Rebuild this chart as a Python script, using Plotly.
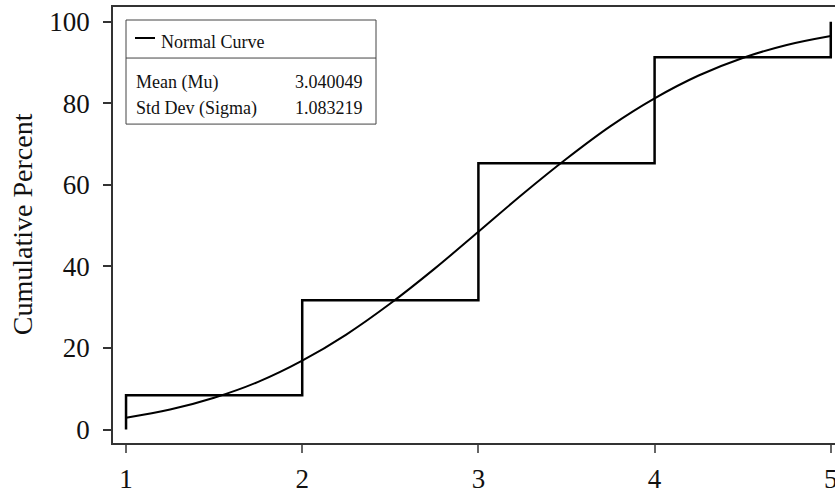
import plotly.graph_objects as go

# Empirical cumulative percent (step function)
step_x = [1, 1, 2, 3, 4, 5]
step_y = [0, 8.4, 31.7, 65.3, 91.3, 100]

# Normal curve values
curve_x = [1, 1.25, 1.5, 1.75, 2, 2.25, 2.5, 2.75, 3, 3.25, 3.5, 3.75, 4, 4.25, 4.5, 4.75, 5]
curve_y = [2.9, 4.9, 7.8, 11.7, 16.9, 23.3, 30.9, 39.4, 48.5, 57.7, 66.4, 74.4, 81.2, 86.8, 91.1, 94.3, 96.5]

x_ticks = [1, 2, 3, 4, 5]
y_ticks = [0, 20, 40, 60, 80, 100]

y_title = "Cumulative Percent"
legend_label = "Normal Curve"
stat_names = ["Mean (Mu)", "Std Dev (Sigma)"]
stat_values = ["3.040049", "1.083219"]

FONT = "Liberation Serif, Times New Roman, serif"

# plot area in page pixels
PL, PT, PR, PB = 113, 7, 835, 442.7

fig = go.Figure()
fig.add_trace(go.Scatter(x=step_x, y=step_y, mode="lines", line=dict(color="black", width=2.5, shape="hv"),
                         showlegend=False, hoverinfo="skip"))
fig.add_trace(go.Scatter(x=curve_x, y=curve_y, mode="lines", line=dict(color="black", width=2, shape="spline"),
                         showlegend=False, hoverinfo="skip"))

def px(x):
    return (x - PL) / (PR - PL)
def py(y):
    return 1 - (y - PT) / (PB - PT)

fig.add_shape(type="rect", xref="paper", yref="paper", x0=px(126), x1=px(376), y0=py(124), y1=py(20),
              line=dict(color="#444", width=1), fillcolor="white", layer="above")
fig.add_shape(type="line", xref="paper", yref="paper", x0=px(126), x1=px(376), y0=py(58), y1=py(58),
              line=dict(color="#444", width=1), layer="above")
fig.add_shape(type="line", xref="paper", yref="paper", x0=px(135), x1=px(155), y0=py(38), y1=py(38),
              line=dict(color="black", width=2), layer="above")
fig.add_annotation(xref="paper", yref="paper", x=px(159), y=py(42), text=legend_label, showarrow=False,
                   xanchor="left", yanchor="middle", font=dict(family=FONT, size=18, color="#111"))
for i, (n, v) in enumerate(zip(stat_names, stat_values)):
    yy = py(82 + 26 * i)
    fig.add_annotation(xref="paper", yref="paper", x=px(134), y=yy, text=n, showarrow=False,
                       xanchor="left", yanchor="middle", font=dict(family=FONT, size=18, color="#111"))
    fig.add_annotation(xref="paper", yref="paper", x=px(365), y=yy, text=v, showarrow=False,
                       xanchor="right", yanchor="middle", font=dict(family=FONT, size=18, color="#111"))

# y-axis title
fig.add_annotation(xref="paper", yref="paper", x=px(22), y=py(224), text=y_title, showarrow=False,
                   textangle=-90, xanchor="center", yanchor="middle",
                   font=dict(family=FONT, size=28, color="#111"))

fig.update_layout(
    width=835, height=495,
    margin=dict(l=PL, r=835 - PR, t=PT, b=495 - PB),
    plot_bgcolor="white", paper_bgcolor="white",
    font=dict(family=FONT, color="#111"),
)
fig.update_xaxes(range=[0.926, 5.024], tickvals=x_ticks, ticktext=[str(v) for v in x_ticks],
                 showgrid=False, zeroline=False, showline=True, linecolor="#333", linewidth=1.5, mirror=True,
                 ticks="outside", ticklen=8, tickcolor="#666", tickwidth=1.5, automargin=False,
                 ticklabeloverflow="allow", ticklabelstandoff=3,
                 tickfont=dict(family=FONT, size=27, color="#111"))
fig.update_yaxes(range=[-3.29, 103.6], tickvals=y_ticks, ticktext=[str(v) for v in y_ticks],
                 showgrid=False, zeroline=False, showline=True, linecolor="#333", linewidth=1.5,
                 ticks="outside", ticklen=8, tickcolor="#333", tickwidth=1.5, ticklabelstandoff=8,
                 automargin=False, ticklabeloverflow="allow",
                 tickfont=dict(family=FONT, size=27, color="#111"))

# remove the browser's default 8px body margin so the figure fills the window exactly
fig.write_html("out.html", config={"displayModeBar": False},
               post_script="document.body.style.margin='0';document.body.style.overflow='hidden';")
